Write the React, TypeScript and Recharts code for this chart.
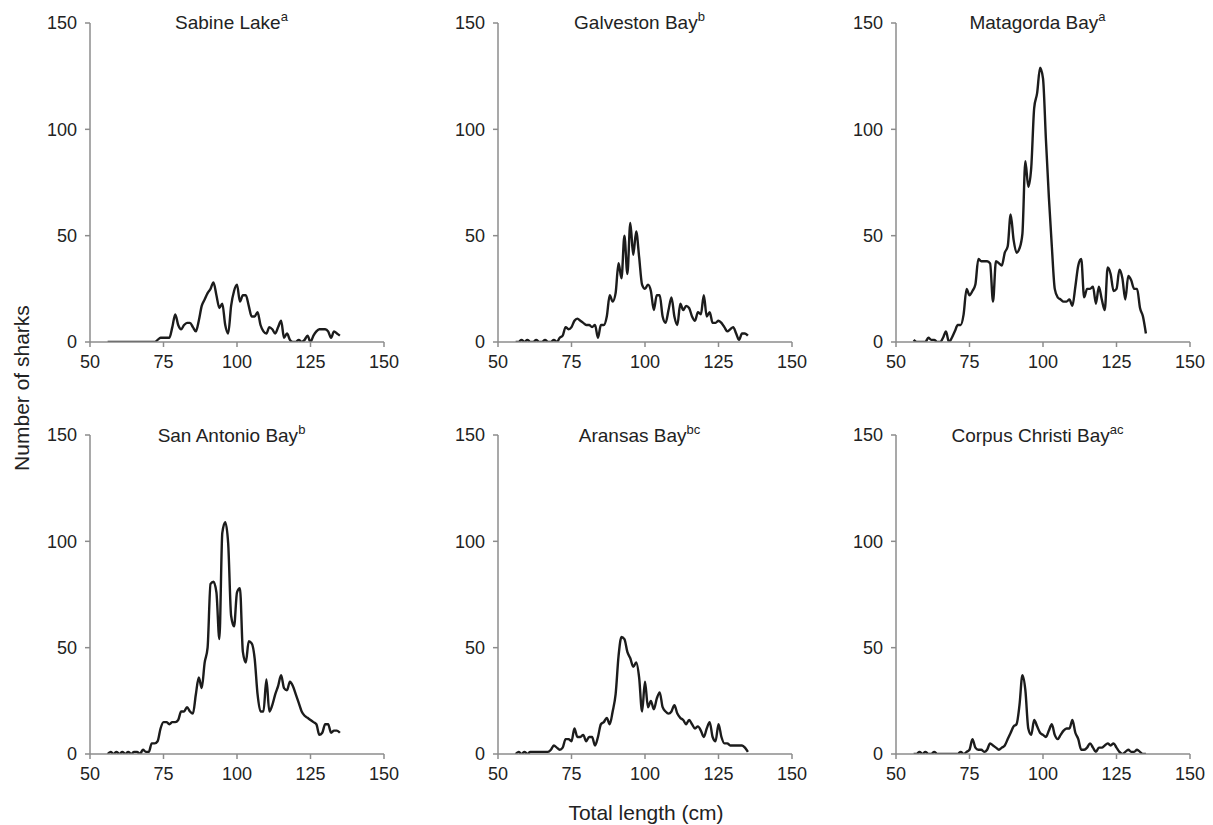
import React from 'react';
import { LineChart, Line, XAxis, YAxis } from 'recharts';

// Total length classes (cm)
const lengthsCm = [
  56, 57, 58, 59, 60, 61, 62, 63, 64, 65,
  66, 67, 68, 69, 70, 71, 72, 73, 74, 75,
  76, 77, 78, 79, 80, 81, 82, 83, 84, 85,
  86, 87, 88, 89, 90, 91, 92, 93, 94, 95,
  96, 97, 98, 99, 100, 101, 102, 103, 104, 105,
  106, 107, 108, 109, 110, 111, 112, 113, 114, 115,
  116, 117, 118, 119, 120, 121, 122, 123, 124, 125,
  126, 127, 128, 129, 130, 131, 132, 133, 134, 135,
];

// Number of sharks per length class, by bay system
const sabineLake = [
  0, 0, 0, 0, 0, 0, 0, 0, 0, 0,
  0, 0, 0, 0, 0, 0, 0, 1, 2, 2,
  2, 2, 7, 13, 8, 6, 8, 9, 9, 7,
  5, 10, 17, 20, 23, 25, 28, 22, 16, 18,
  8, 4, 17, 24, 27, 19, 22, 22, 17, 12,
  12, 14, 8, 5, 4, 7, 6, 4, 7, 10,
  2, 4, 1, 0, 0, 1, 0, 1, 3, 0,
  3, 5, 6, 6, 6, 5, 2, 5, 4, 3,
];

const galvestonBay = [
  0, 0, 1, 0, 1, 0, 0, 1, 0, 0,
  1, 0, 0, 1, 0, 2, 3, 7, 6, 7,
  10, 11, 10, 9, 8, 8, 7, 8, 2, 8,
  8, 12, 22, 19, 23, 37, 30, 50, 32, 56,
  41, 52, 40, 27, 25, 27, 24, 15, 22, 22,
  12, 9, 15, 21, 12, 8, 18, 15, 17, 16,
  12, 10, 14, 13, 22, 12, 14, 9, 9, 10,
  9, 7, 5, 6, 7, 4, 1, 4, 4, 3,
];

const matagordaBay = [
  1, 0, 0, 0, 0, 2, 1, 1, 0, 0,
  2, 5, 0, 2, 5, 8, 8, 13, 25, 22,
  24, 27, 39, 38, 38, 38, 37, 19, 38, 37,
  36, 42, 45, 60, 48, 42, 44, 51, 85, 73,
  82, 110, 117, 129, 124, 95, 68, 45, 25, 21,
  20, 19, 19, 20, 17, 26, 36, 39, 21, 25,
  25, 26, 18, 26, 20, 15, 35, 32, 24, 25,
  34, 30, 20, 31, 29, 25, 25, 16, 12, 4,
];

const sanAntonioBay = [
  0, 1, 0, 1, 0, 1, 0, 1, 0, 1,
  1, 0, 2, 1, 1, 5, 5, 6, 12, 15,
  15, 14, 15, 15, 16, 20, 20, 22, 20, 19,
  28, 36, 31, 43, 50, 80, 81, 76, 54, 104,
  109, 99, 65, 60, 76, 78, 48, 43, 53, 52,
  45, 28, 20, 20, 35, 20, 23, 28, 32, 37,
  31, 30, 34, 32, 28, 24, 20, 18, 17, 16,
  15, 14, 9, 10, 14, 14, 10, 11, 11, 10,
];

const aransasBay = [
  0, 1, 0, 1, 0, 1, 1, 1, 1, 1,
  1, 1, 2, 4, 3, 2, 3, 7, 7, 6,
  12, 8, 8, 9, 6, 8, 8, 4, 8, 14,
  15, 17, 14, 20, 28, 46, 55, 54, 48, 45,
  41, 43, 36, 20, 34, 22, 25, 21, 26, 29,
  22, 20, 19, 20, 23, 19, 17, 16, 14, 16,
  14, 12, 13, 11, 8, 12, 15, 8, 6, 14,
  8, 5, 5, 4, 4, 4, 4, 4, 3, 1,
];

const corpusChristiBay = [
  0, 0, 1, 0, 1, 0, 0, 1, 0, 0,
  0, 0, 0, 0, 0, 0, 1, 0, 1, 2,
  7, 3, 2, 2, 1, 2, 5, 4, 3, 2,
  3, 4, 7, 10, 13, 14, 23, 37, 30, 12,
  9, 16, 13, 10, 9, 8, 11, 14, 9, 7,
  9, 11, 12, 12, 16, 10, 7, 2, 2, 3,
  5, 3, 1, 3, 3, 4, 5, 4, 5, 3,
  1, 0, 1, 2, 1, 1, 2, 1, 0, 0,
];

const xTicks = [50, 75, 100, 125, 150];
const yTicks = [0, 50, 100, 150];

const panelTitles = [
  'Sabine Lake', 'Galveston Bay', 'Matagorda Bay',
  'San Antonio Bay', 'Aransas Bay', 'Corpus Christi Bay',
];
const panelLetters = ['a', 'b', 'a', 'b', 'bc', 'ac'];
const panelSeries = [
  sabineLake, galvestonBay, matagordaBay,
  sanAntonioBay, aransasBay, corpusChristiBay,
];

// Layout
const FONT = '"Liberation Sans", Arial, Helvetica, sans-serif';
const TEXT = '#222';
const AXIS = '#8c8c8c';
const PLOT_LEFTS = [89.5, 497.5, 895.5];
const PLOT_TOPS = [22.7, 435];
const PLOT_W = 294;
const PLOT_H = 319;
const Y_AXIS_W = 70;
const X_AXIS_H = 40;
const TOP_PAD = 12;
const RIGHT_PAD = 24;

function Panel({ index }: { index: number }) {
  const col = index % 3;
  const row = Math.floor(index / 3);
  const left = PLOT_LEFTS[col];
  const top = PLOT_TOPS[row];
  const values = panelSeries[index];
  const data = lengthsCm.map((cm, i) => ({ cm, n: values[i] }));
  const tickStyle = { fill: TEXT, fontSize: 18, fontFamily: FONT };

  return (
    <>
      <div
        style={{
          position: 'absolute',
          left: left - Y_AXIS_W,
          top: top - TOP_PAD,
        }}
      >
        <LineChart
          width={Y_AXIS_W + PLOT_W + RIGHT_PAD}
          height={TOP_PAD + PLOT_H + X_AXIS_H}
          data={data}
          margin={{ top: TOP_PAD, right: RIGHT_PAD, bottom: 0, left: 0 }}
        >
          <XAxis
            type="number"
            dataKey="cm"
            domain={[50, 150]}
            ticks={xTicks}
            height={X_AXIS_H}
            tickSize={5}
            tickMargin={8}
            axisLine={{ stroke: AXIS, strokeWidth: 1.5 }}
            tickLine={{ stroke: AXIS, strokeWidth: 1.5 }}
            tick={tickStyle}
            allowDataOverflow
          />
          <YAxis
            type="number"
            domain={[0, 150]}
            ticks={yTicks}
            width={Y_AXIS_W}
            tickSize={5}
            tickMargin={8}
            axisLine={{ stroke: AXIS, strokeWidth: 1.5 }}
            tickLine={{ stroke: AXIS, strokeWidth: 1.5 }}
            tick={tickStyle}
            allowDataOverflow
          />
          <Line
            type="monotone"
            dataKey="n"
            stroke="#1c1c1c"
            strokeWidth={2.4}
            strokeLinejoin="round"
            dot={false}
            activeDot={false}
            isAnimationActive={false}
          />
        </LineChart>
      </div>
      <div
        style={{
          position: 'absolute',
          left: left - 5,
          width: PLOT_W,
          top: top - 9.3,
          textAlign: 'center',
          fontFamily: FONT,
          fontSize: 19,
          lineHeight: '19px',
          color: TEXT,
          whiteSpace: 'nowrap',
        }}
      >
        {panelTitles[index]}
        <span style={{ fontSize: 13, position: 'relative', top: -8 }}>
          {panelLetters[index]}
        </span>
      </div>
    </>
  );
}

export default function App() {
  return (
    <div
      style={{
        position: 'absolute',
        left: 0,
        top: 0,
        width: 1213,
        height: 825,
        background: '#fff',
        overflow: 'hidden',
      }}
    >
      {[0, 1, 2, 3, 4, 5].map((i) => (
        <Panel key={i} index={i} />
      ))}
      <div
        style={{
          position: 'absolute',
          left: 496,
          width: 300,
          top: 801.5,
          textAlign: 'center',
          fontFamily: FONT,
          fontSize: 21,
          lineHeight: '21px',
          color: TEXT,
          whiteSpace: 'nowrap',
        }}
      >
        Total length (cm)
      </div>
      <div
        style={{
          position: 'absolute',
          left: 22 - 150,
          top: 388 - 12,
          width: 300,
          height: 24,
          lineHeight: '24px',
          textAlign: 'center',
          fontFamily: FONT,
          fontSize: 21,
          color: TEXT,
          whiteSpace: 'nowrap',
          transform: 'rotate(-90deg)',
        }}
      >
        Number of sharks
      </div>
    </div>
  );
}
